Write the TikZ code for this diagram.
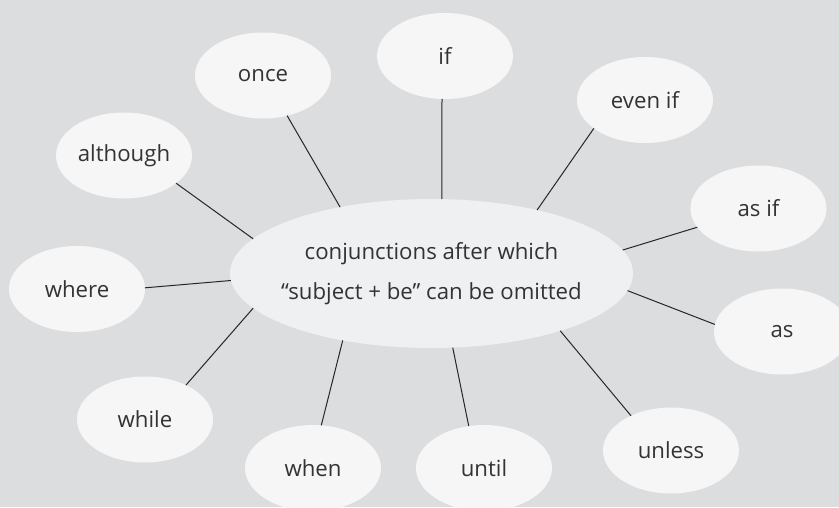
\documentclass[tikz,border=0pt]{standalone}
\usepackage{fontspec}
\setmainfont{Open Sans}
\usetikzlibrary{shapes.geometric}
\definecolor{bg}{HTML}{DCDDDF}
\definecolor{bubble}{HTML}{F6F6F6}
\definecolor{hub}{HTML}{EFF0F2}
\definecolor{ink}{HTML}{333333}
\tikzset{
semithick, % thin spokes
my bubble/.style={ellipse,fill=bubble,text=ink,inner sep=0pt,outer sep=0pt,
  minimum width=136pt,minimum height=86pt,font=\fontsize{22.2}{27}\selectfont},
my hub/.style={my bubble,fill=hub,minimum width=403pt,minimum height=149pt,
  inner xsep=-20pt,align=center,font=\fontsize{22.2}{40}\selectfont},
spoke/.style={draw=black!85,line width=1pt},
}

\begin{document}
\begin{tikzpicture}[x=1pt,y=-1pt]
\fill[bg] (0,0) rectangle (839,507);
\useasboundingbox (0,0) rectangle (839,507);

\node[my hub]    (hub)     at (431.5,273.5) {\raisebox{-3pt}{conjunctions after which}\\\raisebox{-3pt}{“subject + be” can be omitted}};
\node[my bubble] (if)      at (445,56)    {if};
\node[my bubble] (once)    at (263,75.5)  {once};
\node[my bubble] (although) at (124,155.5) {although};
\node[my bubble] (where)   at (77,289)    {where};
\node[my bubble] (while)   at (145,419.5) {while};
\node[my bubble] (when)    at (313,468)   {when};
\node[my bubble] (until)   at (484,468)   {until};
\node[my bubble] (unless)  at (671,450.5) {unless};
\node[my bubble] (as)      at (782,331.5) {as};
\node[my bubble] (asif)    at (758.5,208.5) {as if};
\node[my bubble] (evenif)  at (645,100)   {even if};

\path[spoke] (if.-94)        edge (hub.82)
             (once.-59.4)    edge (hub.144.6)
             (although.-28.8) edge (hub.169.4)
             (where.1)       edge (hub.182)
             (while.40.9)    edge (hub.191.2)
             (when.79.2)     edge (hub.217.6)
             (until.110.9)   edge (hub.-74.8)
             (unless.139.7)  edge (hub.-24.6)
             (as.174.5)      edge (hub.-5.4)
             (asif.197.3)    edge (hub.7.7)
             (evenif.209.1)  edge (hub.31.8);
\end{tikzpicture}
\end{document}
